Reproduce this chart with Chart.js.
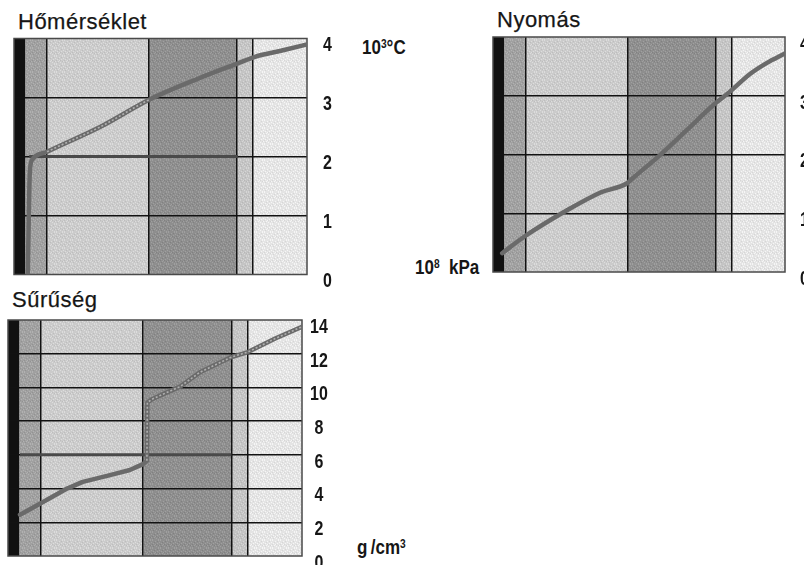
<!DOCTYPE html>
<html>
<head>
<meta charset="utf-8">
<script src="https://cdn.jsdelivr.net/npm/chart.js@4.4.1/dist/chart.umd.min.js"></script>
<style>
  html, body { margin: 0; padding: 0; background: #fff; }
  body { width: 804px; height: 565px; position: relative; overflow: hidden; }
  .box { position: absolute; }
  .title { position: absolute; font-family: "Liberation Sans", Arial, sans-serif; font-size: 22px; line-height: 22px; color: #161616; white-space: nowrap; letter-spacing: 0.5px; -webkit-text-stroke: 0.25px #161616; }
  .unit { position: absolute; font-family: "Liberation Sans", Arial, sans-serif; font-weight: bold; font-size: 20px; line-height: 20px; color: #161616; white-space: nowrap; transform: scaleX(0.85); transform-origin: 0 0; }
  .unit sup { font-size: 12px; vertical-align: top; position: relative; top: -3px; }
</style>
</head>
<body>
<div class="title" style="left:18px; top:11px;">Hőmérséklet</div>
<div class="title" style="left:497px; top:9px;">Nyomás</div>
<div class="title" style="left:12px; top:289px;">Sűrűség</div>

<div class="unit" style="left:362px; top:37px;">10<sup>3</sup>°C</div>
<div class="unit" style="left:415px; top:257px;">10<sup>8</sup>&nbsp;&nbsp;kPa</div>
<div class="unit" style="left:357px; top:537px;">g&thinsp;/cm<sup>3</sup></div>

<canvas id="temp" class="box" width="360" height="295" style="left:0; top:0;"></canvas>
<canvas id="pres" class="box" width="324" height="295" style="left:480px; top:0;"></canvas>
<canvas id="dens" class="box" width="350" height="265" style="left:0; top:300px;"></canvas>

<script>
// Earth's shells, by depth (km) of each shell's lower boundary
const layerNames = ['kéreg', 'felső köpeny', 'alsó köpeny', 'külső mag', 'átmeneti zóna', 'belső mag'];
const layerBase  = [250, 720, 2930, 4850, 5200, 6371];
const layerGray  = [17, 160, 203, 142, 196, 228];   // grey level of each shell's fill
const boundaryLines = [720, 2930, 4850, 5200];
const earthRadius = 6371;

// Temperature, 10^3 °C
const tempDepth = [300, 320, 345, 400, 720, 1870, 2960, 4040, 4870, 5240, 5850, 6371];
const tempValue = [0, 0.9, 1.75, 1.95, 2.08, 2.5, 2.97, 3.33, 3.58, 3.69, 3.8, 3.9];
const tempTicks = [0, 1, 2, 3, 4];

// Pressure, 10^8 kPa
const presDepth = [200, 680, 1615, 2335, 2924, 3055, 3644, 4233, 4822, 5171, 5607, 5978, 6371];
const presValue = [0.32, 0.6, 1.05, 1.35, 1.51, 1.6, 1.99, 2.42, 2.85, 3.07, 3.37, 3.56, 3.72];
const presTicks = [0, 1, 2, 3, 4];

// Density, g/cm^3
const densDepth = [260, 760, 1280, 1620, 2210, 2640, 2925, 3010, 3020, 3120, 3400, 3730, 4160, 4840, 5200, 5790, 6371];
const densValue = [2.45, 3.2, 4.0, 4.4, 4.8, 5.1, 5.45, 5.65, 9.1, 9.3, 9.65, 10.05, 10.9, 11.8, 12.1, 12.9, 13.6];
const densTicks = [0, 2, 4, 6, 8, 10, 12, 14];

// Darker level strokes running across the mantle and outer core
const tempLevel = { depth: [330, 4870], value: [2, 2] };
const densLevel = { depth: [260, 4840], value: [6, 6] };

// Depth ranges where the curve is drawn with a hatched core
const tempHatched = [[720, 2930]];
const densHatched = [[3000, 4850], [5200, 6371]];

const labelFont = 'bold 21px "Liberation Sans", Arial, sans-serif';
const labelSquash = 0.76;

function points(xs, ys) { return xs.map((x, i) => ({ x: x, y: ys[i] })); }

function gray(v) { v = Math.max(0, Math.min(255, Math.round(v))); return 'rgb(' + v + ',' + v + ',' + v + ')'; }

// Fixed 8x8 screen tile giving the fills a printed, speckled look
const speckLight = [[0,0],[3,1],[6,0],[1,3],[5,3],[2,5],[7,5],[4,6],[0,7],[6,7],[3,4],[7,2]];
const speckDark  = [[2,2],[5,1],[4,4],[1,6],[6,5],[0,4]];
function screenPattern(ctx, level) {
  if (level < 40) return gray(level);
  const t = document.createElement('canvas');
  t.width = 8; t.height = 8;
  const g = t.getContext('2d');
  g.fillStyle = gray(level); g.fillRect(0, 0, 8, 8);
  g.fillStyle = gray(level + 18);
  speckLight.forEach(([i, j]) => g.fillRect(i, j, 1, 1));
  g.fillStyle = gray(level - 14);
  speckDark.forEach(([i, j]) => g.fillRect(i, j, 1, 1));
  return ctx.createPattern(t, 'repeat');
}

const layersPlugin = {
  id: 'layers',
  beforeDraw(chart) {
    const { ctx, chartArea: a, scales: { x } } = chart;
    ctx.save();
    let prev = 0;
    layerBase.forEach((d, i) => {
      const x0 = x.getPixelForValue(prev), x1 = x.getPixelForValue(d);
      ctx.fillStyle = screenPattern(ctx, layerGray[i]);
      ctx.fillRect(x0, a.top, x1 - x0, a.bottom - a.top);
      prev = d;
    });
    ctx.restore();
  },
  beforeDatasetsDraw(chart) {
    const { ctx, chartArea: a } = chart;
    ctx.save();
    ctx.strokeStyle = '#4a4a4a';
    ctx.lineWidth = 1.5;
    ctx.strokeRect(a.left, a.top, a.right - a.left, a.bottom - a.top);
    ctx.restore();
  },
  // value labels of the right-hand axis, set in a narrow bold face
  afterDraw(chart, args, opts) {
    const { ctx, scales: { y } } = chart;
    ctx.save();
    ctx.font = labelFont;
    ctx.fillStyle = '#161616';
    ctx.textBaseline = 'middle';
    ctx.textAlign = opts.align;
    y.ticks.forEach(t => {
      const py = y.getPixelForValue(t.value) + 7;
      ctx.save();
      ctx.translate(opts.x, py);
      ctx.scale(labelSquash, 1);
      ctx.fillText(String(t.value), 0, 0);
      ctx.restore();
    });
    ctx.restore();
  }
};

function inRanges(v, ranges) { return ranges.some(([a, b]) => v >= a && v < b); }

function makePanel(id, o) {
  const datasets = [];
  if (o.hatched) {
    datasets.push({
      data: points(o.depth, o.value), order: 0,
      borderWidth: 1.6, borderDash: [2, 2], pointRadius: 0,
      cubicInterpolationMode: o.smooth ? 'monotone' : 'default', tension: 0,
      segment: { borderColor: c => inRanges(c.p0.parsed.x, o.hatched) ? '#b0b0b0' : 'rgba(0,0,0,0)' }
    });
  }
  datasets.push({
    data: points(o.depth, o.value), order: 1,
    borderColor: '#6a6a6a', borderWidth: 4.5, pointRadius: 0,
    cubicInterpolationMode: o.smooth ? 'monotone' : 'default', tension: 0,
    borderCapStyle: 'round', borderJoinStyle: 'round'
  });
  if (o.level) {
    datasets.push({
      data: points(o.level.depth, o.level.value), order: 2,
      borderColor: '#4a4a4a', borderWidth: 3, pointRadius: 0
    });
  }
  const yMax = o.ticks[o.ticks.length - 1];
  return new Chart(document.getElementById(id), {
    type: 'line',
    data: { datasets },
    options: {
      responsive: false,
      animation: false,
      events: [],
      layout: { padding: o.padding },
      plugins: {
        legend: { display: false }, tooltip: { enabled: false },
        layers: { x: o.labelX, align: o.align }
      },
      scales: {
        x: {
          type: 'linear', min: 0, max: earthRadius,
          afterBuildTicks: s => { s.ticks = boundaryLines.map(v => ({ value: v })); },
          ticks: { display: false },
          grid: { color: '#121212', lineWidth: 1.5, drawTicks: false },
          border: { display: false },
          afterFit: s => { s.height = 0; s.paddingLeft = 0; s.paddingRight = 0; }
        },
        y: {
          position: 'right', min: 0, max: yMax,
          afterBuildTicks: s => { s.ticks = o.ticks.map(v => ({ value: v })); },
          ticks: { display: false },
          grid: {
            color: c => (c.tick && (c.tick.value === 0 || c.tick.value === yMax)) ? 'rgba(0,0,0,0)' : '#121212',
            lineWidth: 1.5, drawTicks: false
          },
          border: { display: false },
          afterFit: s => { s.width = o.axisWidth; s.paddingTop = 0; s.paddingBottom = 0; }
        }
      }
    },
    plugins: [layersPlugin]
  });
}

makePanel('temp', {
  depth: tempDepth, value: tempValue, ticks: tempTicks, smooth: true,
  level: tempLevel, hatched: tempHatched,
  padding: { left: 14, top: 38.5, bottom: 20.5, right: 0 },
  axisWidth: 53, labelX: 327.5, align: 'center'
});
makePanel('pres', {
  depth: presDepth, value: presValue, ticks: presTicks, smooth: true,
  padding: { left: 13, top: 37, bottom: 23, right: 0 },
  axisWidth: 19, labelX: 320, align: 'left'
});
makePanel('dens', {
  depth: densDepth, value: densValue, ticks: densTicks, smooth: false,
  level: densLevel, hatched: densHatched,
  padding: { left: 8, top: 20, bottom: 9, right: 0 },
  axisWidth: 48, labelX: 319, align: 'center'
});
</script>
</body>
</html>
